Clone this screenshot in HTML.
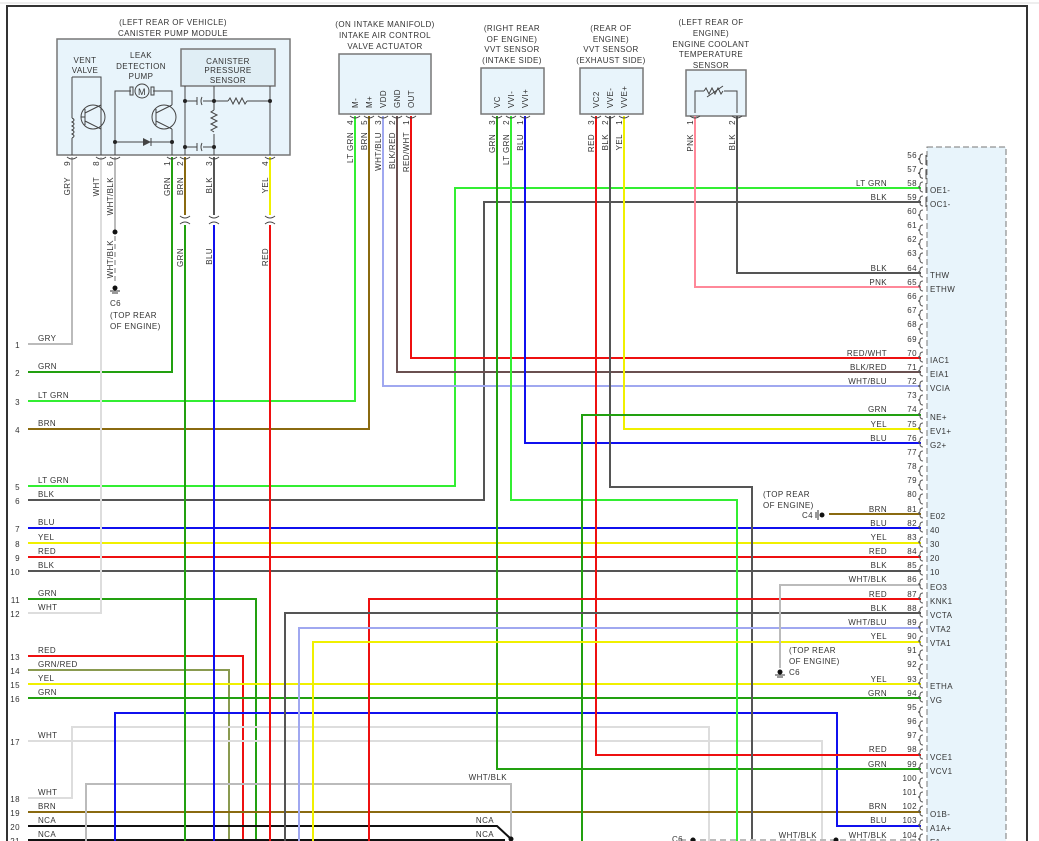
<!DOCTYPE html>
<html><head><meta charset="utf-8"><style>
html,body{margin:0;padding:0;background:#fff;}
svg{display:block;font-family:"Liberation Sans",sans-serif;}
text{font-size:8px;fill:#333;letter-spacing:0.4px;}
.w{fill:none;stroke-width:2;}
.t{fill:none;stroke:#444;stroke-width:1;}
</style></head><body>
<svg width="1039" height="841" viewBox="0 0 1039 841" xmlns="http://www.w3.org/2000/svg">
<rect x="0" y="0" width="1039" height="841" fill="#fff"/>
<path d="M7,841 V6 H1027 V841" fill="none" stroke="#333" stroke-width="2"/>
<line x1="0" y1="3" x2="1039" y2="3" stroke="#ddd" stroke-width="1"/>

<rect x="927" y="147" width="79" height="700" fill="#e8f4fb" stroke="#777" stroke-dasharray="6,3"/>

<rect x="57" y="39" width="233" height="116" fill="#e8f4fb" stroke="#777" stroke-width="1.5"/>
<rect x="181" y="49" width="94" height="37" fill="#e0eef5" stroke="#777" stroke-width="1.5"/>
<text x="173" y="25" text-anchor="middle">(LEFT REAR OF VEHICLE)</text>
<text x="173" y="36" text-anchor="middle">CANISTER PUMP MODULE</text>
<text x="85" y="63" text-anchor="middle">VENT</text><text x="85" y="73" text-anchor="middle">VALVE</text>
<text x="141" y="58" text-anchor="middle">LEAK</text><text x="141" y="69" text-anchor="middle">DETECTION</text><text x="141" y="79" text-anchor="middle">PUMP</text>
<text x="228" y="64" text-anchor="middle">CANISTER</text><text x="228" y="73" text-anchor="middle">PRESSURE</text><text x="228" y="83" text-anchor="middle">SENSOR</text>
<path class="t" d="M72,155 V138 M72,77 H101 V155 M72,77 V118 M72,118 q4,2 0,4 q4,2 0,4 q4,2 0,4 q4,2 0,4 q4,2 0,4 V138"/>
<circle class="t" cx="93" cy="117" r="12"/><path class="t" d="M85,109 V125 M85,117 H81 M85,113 L101,105 M85,121 L101,129"/>
<path class="t" d="M115,155 V91 H131 M153,91 H172 V105 M172,129 V155 M115,142 H172"/>
<circle class="t" cx="142" cy="91" r="7"/><text x="142" y="95" text-anchor="middle" style="font-size:9px">M</text>
<rect x="130" y="87" width="3" height="8" fill="none" stroke="#444"/><rect x="151" y="87" width="3" height="8" fill="none" stroke="#444"/>
<circle class="t" cx="164" cy="117" r="12"/><path class="t" d="M156,109 V125 M156,113 L172,105 M156,121 L172,129"/>
<path d="M143,138 L151,142 L143,146 Z" fill="#444"/><path class="t" d="M151,138 V146"/>
<circle cx="115" cy="142" r="2" fill="#222"/><circle cx="172" cy="142" r="2" fill="#222"/>
<path class="t" d="M185,86 V155 M214,86 V110 M214,134 V155 M270,86 V155 M185,101 H197 M203,101 H214 M214,101 H228 M247,101 H270 M185,147 H197 M203,147 H214 M197,97 V105 M202,97 q-2,4 0,8 M197,143 V151 M202,143 q-2,4 0,8"/>
<path class="t" d="M228,101 l2,-3 l3,6 l3,-6 l3,6 l3,-6 l3,6 l2,-3"/>
<path class="t" d="M214,110 l-3,2 l6,3 l-6,3 l6,3 l-6,3 l6,3 l-6,3 l3,2"/>
<circle cx="185" cy="101" r="2" fill="#222"/><circle cx="214" cy="101" r="2" fill="#222"/><circle cx="270" cy="101" r="2" fill="#222"/><circle cx="185" cy="147" r="2" fill="#222"/><circle cx="214" cy="147" r="2" fill="#222"/>

<rect x="339" y="54" width="92" height="60" fill="#e8f4fb" stroke="#777" stroke-width="1.5"/>
<text x="385" y="27" text-anchor="middle">(ON INTAKE MANIFOLD)</text><text x="385" y="38" text-anchor="middle">INTAKE AIR CONTROL</text><text x="385" y="49" text-anchor="middle">VALVE ACTUATOR</text>
<rect x="481" y="68" width="63" height="46" fill="#e8f4fb" stroke="#777" stroke-width="1.5"/>
<text x="512" y="31" text-anchor="middle">(RIGHT REAR</text><text x="512" y="42" text-anchor="middle">OF ENGINE)</text><text x="512" y="52" text-anchor="middle">VVT SENSOR</text><text x="512" y="63" text-anchor="middle">(INTAKE SIDE)</text>
<rect x="580" y="68" width="63" height="46" fill="#e8f4fb" stroke="#777" stroke-width="1.5"/>
<text x="611" y="31" text-anchor="middle">(REAR OF</text><text x="611" y="42" text-anchor="middle">ENGINE)</text><text x="611" y="52" text-anchor="middle">VVT SENSOR</text><text x="611" y="63" text-anchor="middle">(EXHAUST SIDE)</text>
<rect x="686" y="70" width="60" height="46" fill="#e8f4fb" stroke="#777" stroke-width="1.5"/>
<text x="711" y="25" text-anchor="middle">(LEFT REAR OF</text><text x="711" y="36" text-anchor="middle">ENGINE)</text><text x="711" y="47" text-anchor="middle">ENGINE COOLANT</text><text x="711" y="57" text-anchor="middle">TEMPERATURE</text><text x="711" y="68" text-anchor="middle">SENSOR</text>
<path class="t" d="M695,113 V91 H704 M724,91 H737 V113"/>
<path class="t" d="M704,91 l2,-3 l3,6 l3,-6 l3,6 l3,-6 l3,6 l2,-3 M707,97 L723,86"/>

<g text-anchor="start">
<text transform="translate(358,108) rotate(-90)">M-</text>
<text transform="translate(372,108) rotate(-90)">M+</text>
<text transform="translate(386,108) rotate(-90)">VDD</text>
<text transform="translate(400,108) rotate(-90)">GND</text>
<text transform="translate(414,108) rotate(-90)">OUT</text>
<text transform="translate(500,108) rotate(-90)">VC</text>
<text transform="translate(514,108) rotate(-90)">VVI-</text>
<text transform="translate(528,108) rotate(-90)">VVI+</text>
<text transform="translate(599,108) rotate(-90)">VC2</text>
<text transform="translate(613,108) rotate(-90)">VVE-</text>
<text transform="translate(627,108) rotate(-90)">VVE+</text>
</g>

<g text-anchor="end">
<text transform="translate(70,161) rotate(-90)">9</text><text transform="translate(70,177) rotate(-90)">GRY</text>
<text transform="translate(99,161) rotate(-90)">8</text><text transform="translate(99,177) rotate(-90)">WHT</text>
<text transform="translate(113,161) rotate(-90)">6</text><text transform="translate(113,177) rotate(-90)">WHT/BLK</text>
<text transform="translate(113,240) rotate(-90)">WHT/BLK</text>
<text transform="translate(170,161) rotate(-90)">1</text><text transform="translate(170,177) rotate(-90)">GRN</text>
<text transform="translate(183,161) rotate(-90)">2</text><text transform="translate(183,177) rotate(-90)">BRN</text>
<text transform="translate(212,161) rotate(-90)">3</text><text transform="translate(212,177) rotate(-90)">BLK</text>
<text transform="translate(268,161) rotate(-90)">4</text><text transform="translate(268,177) rotate(-90)">YEL</text>
<text transform="translate(183,248) rotate(-90)">GRN</text>
<text transform="translate(212,248) rotate(-90)">BLU</text>
<text transform="translate(268,248) rotate(-90)">RED</text>
<text transform="translate(353,120) rotate(-90)">4</text><text transform="translate(353,132) rotate(-90)">LT GRN</text>
<text transform="translate(367,120) rotate(-90)">5</text><text transform="translate(367,132) rotate(-90)">BRN</text>
<text transform="translate(381,120) rotate(-90)">3</text><text transform="translate(381,132) rotate(-90)">WHT/BLU</text>
<text transform="translate(395,120) rotate(-90)">2</text><text transform="translate(395,132) rotate(-90)">BLK/RED</text>
<text transform="translate(409,120) rotate(-90)">1</text><text transform="translate(409,132) rotate(-90)">RED/WHT</text>
<text transform="translate(495,120) rotate(-90)">3</text><text transform="translate(495,134) rotate(-90)">GRN</text>
<text transform="translate(509,120) rotate(-90)">2</text><text transform="translate(509,134) rotate(-90)">LT GRN</text>
<text transform="translate(523,120) rotate(-90)">1</text><text transform="translate(523,134) rotate(-90)">BLU</text>
<text transform="translate(594,120) rotate(-90)">3</text><text transform="translate(594,134) rotate(-90)">RED</text>
<text transform="translate(608,120) rotate(-90)">2</text><text transform="translate(608,134) rotate(-90)">BLK</text>
<text transform="translate(622,120) rotate(-90)">1</text><text transform="translate(622,134) rotate(-90)">YEL</text>
<text transform="translate(693,120) rotate(-90)">1</text><text transform="translate(693,134) rotate(-90)">PNK</text>
<text transform="translate(735,120) rotate(-90)">2</text><text transform="translate(735,134) rotate(-90)">BLK</text>
</g>

<g class="w">
<path stroke="#bbb" d="M28,344 H72 V157"/>
<path stroke="#22a010" d="M28,372 H172 V157"/>
<path stroke="#33ee33" d="M28,401 H355 V116"/>
<path stroke="#8a6a10" d="M28,429 H369 V116"/>
<path stroke="#33ee33" d="M28,486 H455 V188 H921"/>
<path stroke="#555" d="M28,500 H484 V202 H921"/>
<path stroke="#1010ee" d="M28,528 H921"/>
<path stroke="#f0f000" d="M28,543 H921"/>
<path stroke="#ee1010" d="M28,557 H921"/>
<path stroke="#555" d="M28,571 H921"/>
<path stroke="#22a010" d="M28,599 H256 V841"/>
<path stroke="#ddd" d="M28,613 H101 V157"/>
<path stroke="#ee1010" d="M28,656 H243 V841"/>
<path stroke="#8a9a50" d="M28,670 H229 V841"/>
<path stroke="#f0f000" d="M28,684 H921"/>
<path stroke="#22a010" d="M28,698 H921"/>
<path stroke="#ddd" d="M28,741 H822 V841"/>
<path stroke="#ddd" d="M28,798 H72 V727 H709 V841"/>
<path stroke="#8a6a10" d="M28,812 H921"/>
<path stroke="#111" d="M28,826 H497 L510,838"/>
<path stroke="#111" d="M28,840 H505"/>
<path stroke="#bbb" d="M86,841 V784 H511 V838"/>
<path stroke="#1010ee" d="M115,841 V713 H837 V826 H921"/>
<path stroke="#8a6a10" d="M185,157 V215"/><path stroke="#22a010" d="M185,225 V841"/>
<path stroke="#555" d="M214,157 V215"/><path stroke="#1010ee" d="M214,225 V841"/>
<path stroke="#f0f000" d="M270,157 V215"/><path stroke="#ee1010" d="M270,225 V841"/>
<path stroke="#bbb" d="M115,157 V232"/>
<path stroke="#a0a8f0" d="M383,116 V386 H921"/>
<path stroke="#6a5050" d="M397,116 V372 H921"/>
<path stroke="#ee1010" d="M411,116 V358 H921"/>
<path stroke="#22a010" d="M497,116 V769 H921"/>
<path stroke="#33ee33" d="M511,116 V500 H737 V841"/>
<path stroke="#1010ee" d="M525,116 V443 H921"/>
<path stroke="#ee1010" d="M596,116 V755 H921"/>
<path stroke="#555" d="M610,116 V487 H752 V841"/>
<path stroke="#f0f000" d="M624,116 V429 H921"/>
<path stroke="#22a010" d="M921,415 H582 V841"/>
<path stroke="#ff8899" d="M695,116 V287 H921"/>
<path stroke="#555" d="M737,116 V273 H921"/>
<path stroke="#ee1010" d="M921,599 H369 V841"/>
<path stroke="#555" d="M921,613 H285 V841"/>
<path stroke="#a0a8f0" d="M921,628 H299 V841"/>
<path stroke="#f0f000" d="M921,642 H313 V841"/>
<path stroke="#bbb" d="M921,585 H780 V668"/>
<path stroke="#8a6a10" d="M829,514 H921"/>
<path stroke="#bbb" d="M680,840 H921" stroke-dasharray="6,4"/>
</g>
<path d="M115,236 V282" stroke="#bbb" stroke-width="2" stroke-dasharray="5,3"/>
<circle cx="115" cy="232" r="2.5" fill="#111"/>
<circle cx="115" cy="288" r="2.5" fill="#111"/><path d="M110,291 H120 M112,293 H118" stroke="#333"/>
<text x="110" y="306">C6</text><text x="110" y="318">(TOP REAR</text><text x="110" y="329">OF ENGINE)</text>
<circle cx="780" cy="672" r="2.5" fill="#111"/><path d="M775,675 H785 M777,677 H783" stroke="#333"/>
<text x="789" y="653">(TOP REAR</text><text x="789" y="664">OF ENGINE)</text><text x="789" y="675">C6</text>
<circle cx="822" cy="515" r="2.5" fill="#111"/><path d="M818,510 V520 M816,512 V518" stroke="#333"/>
<text x="763" y="497">(TOP REAR</text><text x="763" y="508">OF ENGINE)</text><text x="802" y="518">C4</text>
<circle cx="511" cy="839" r="2.5" fill="#111"/><circle cx="836" cy="840" r="2.5" fill="#111"/>
<circle cx="693" cy="840" r="2.5" fill="#111"/><text x="672" y="842">C6</text>

<path class="t" d="M180,216 q5,4 10,0 M180,224 q5,-4 10,0 M209,216 q5,4 10,0 M209,224 q5,-4 10,0 M265,216 q5,4 10,0 M265,224 q5,-4 10,0"/>
<path class="t" d="M67,157 q5,4 10,0 M96,157 q5,4 10,0 M110,157 q5,4 10,0 M167,157 q5,4 10,0 M180,157 q5,4 10,0 M209,157 q5,4 10,0 M265,157 q5,4 10,0 M350,116 q5,4 10,0 M364,116 q5,4 10,0 M378,116 q5,4 10,0 M392,116 q5,4 10,0 M406,116 q5,4 10,0 M492,116 q5,4 10,0 M506,116 q5,4 10,0 M520,116 q5,4 10,0 M591,116 q5,4 10,0 M605,116 q5,4 10,0 M619,116 q5,4 10,0 M690,116 q5,4 10,0 M732,116 q5,4 10,0"/>

<g>
<text x="20" y="348" text-anchor="end">1</text><text x="38" y="341">GRY</text>
<text x="20" y="376" text-anchor="end">2</text><text x="38" y="369">GRN</text>
<text x="20" y="405" text-anchor="end">3</text><text x="38" y="398">LT GRN</text>
<text x="20" y="433" text-anchor="end">4</text><text x="38" y="426">BRN</text>
<text x="20" y="490" text-anchor="end">5</text><text x="38" y="483">LT GRN</text>
<text x="20" y="504" text-anchor="end">6</text><text x="38" y="497">BLK</text>
<text x="20" y="532" text-anchor="end">7</text><text x="38" y="525">BLU</text>
<text x="20" y="547" text-anchor="end">8</text><text x="38" y="540">YEL</text>
<text x="20" y="561" text-anchor="end">9</text><text x="38" y="554">RED</text>
<text x="20" y="575" text-anchor="end">10</text><text x="38" y="568">BLK</text>
<text x="20" y="603" text-anchor="end">11</text><text x="38" y="596">GRN</text>
<text x="20" y="617" text-anchor="end">12</text><text x="38" y="610">WHT</text>
<text x="20" y="660" text-anchor="end">13</text><text x="38" y="653">RED</text>
<text x="20" y="674" text-anchor="end">14</text><text x="38" y="667">GRN/RED</text>
<text x="20" y="688" text-anchor="end">15</text><text x="38" y="681">YEL</text>
<text x="20" y="702" text-anchor="end">16</text><text x="38" y="695">GRN</text>
<text x="20" y="745" text-anchor="end">17</text><text x="38" y="738">WHT</text>
<text x="20" y="802" text-anchor="end">18</text><text x="38" y="795">WHT</text>
<text x="20" y="816" text-anchor="end">19</text><text x="38" y="809">BRN</text>
<text x="20" y="830" text-anchor="end">20</text><text x="38" y="823">NCA</text>
<text x="20" y="844" text-anchor="end">21</text><text x="38" y="837">NCA</text>
<text x="494" y="823" text-anchor="end">NCA</text><text x="494" y="837" text-anchor="end">NCA</text>
<text x="507" y="780" text-anchor="end">WHT/BLK</text>
<text x="817" y="838" text-anchor="end">WHT/BLK</text>
</g>

<g text-anchor="end">
<text x="917" y="158">56</text><text x="917" y="172">57</text><text x="917" y="186">58</text><text x="917" y="200">59</text><text x="917" y="214">60</text><text x="917" y="228">61</text><text x="917" y="242">62</text><text x="917" y="256">63</text><text x="917" y="271">64</text><text x="917" y="285">65</text><text x="917" y="299">66</text><text x="917" y="313">67</text><text x="917" y="327">68</text><text x="917" y="342">69</text><text x="917" y="356">70</text><text x="917" y="370">71</text><text x="917" y="384">72</text><text x="917" y="398">73</text><text x="917" y="412">74</text><text x="917" y="427">75</text><text x="917" y="441">76</text><text x="917" y="455">77</text><text x="917" y="469">78</text><text x="917" y="483">79</text><text x="917" y="497">80</text><text x="917" y="512">81</text><text x="917" y="526">82</text><text x="917" y="540">83</text><text x="917" y="554">84</text><text x="917" y="568">85</text><text x="917" y="582">86</text><text x="917" y="597">87</text><text x="917" y="611">88</text><text x="917" y="625">89</text><text x="917" y="639">90</text><text x="917" y="653">91</text><text x="917" y="667">92</text><text x="917" y="682">93</text><text x="917" y="696">94</text><text x="917" y="710">95</text><text x="917" y="724">96</text><text x="917" y="738">97</text><text x="917" y="752">98</text><text x="917" y="767">99</text><text x="917" y="781">100</text><text x="917" y="795">101</text><text x="917" y="809">102</text><text x="917" y="823">103</text><text x="917" y="838">104</text>
<text x="887" y="186">LT GRN</text><text x="887" y="200">BLK</text><text x="887" y="271">BLK</text><text x="887" y="285">PNK</text>
<text x="887" y="356">RED/WHT</text><text x="887" y="370">BLK/RED</text><text x="887" y="384">WHT/BLU</text>
<text x="887" y="412">GRN</text><text x="887" y="427">YEL</text><text x="887" y="441">BLU</text>
<text x="887" y="512">BRN</text><text x="887" y="526">BLU</text><text x="887" y="540">YEL</text><text x="887" y="554">RED</text><text x="887" y="568">BLK</text>
<text x="887" y="582">WHT/BLK</text><text x="887" y="597">RED</text><text x="887" y="611">BLK</text><text x="887" y="625">WHT/BLU</text><text x="887" y="639">YEL</text>
<text x="887" y="682">YEL</text><text x="887" y="696">GRN</text><text x="887" y="752">RED</text><text x="887" y="767">GRN</text>
<text x="887" y="809">BRN</text><text x="887" y="823">BLU</text><text x="887" y="838">WHT/BLK</text>
</g>
<g>
<text x="930" y="193">OE1-</text><text x="930" y="207">OC1-</text><text x="930" y="278">THW</text><text x="930" y="292">ETHW</text>
<text x="930" y="363">IAC1</text><text x="930" y="377">EIA1</text><text x="930" y="391">VCIA</text>
<text x="930" y="420">NE+</text><text x="930" y="434">EV1+</text><text x="930" y="448">G2+</text>
<text x="930" y="519">E02</text><text x="930" y="533">40</text><text x="930" y="547">30</text><text x="930" y="561">20</text><text x="930" y="575">10</text>
<text x="930" y="590">EO3</text><text x="930" y="604">KNK1</text><text x="930" y="618">VCTA</text><text x="930" y="632">VTA2</text><text x="930" y="646">VTA1</text>
<text x="930" y="689">ETHA</text><text x="930" y="703">VG</text><text x="930" y="760">VCE1</text><text x="930" y="774">VCV1</text>
<text x="930" y="817">O1B-</text><text x="930" y="831">A1A+</text><text x="930" y="845">E1</text>
</g>
<g class="t" stroke="#555">
<path d="M923,154 q-3,0 -3,3 q0,2 -2,2 q2,0 2,2 q0,3 3,3 M926,155 V165"/>
<path transform="translate(0,14.2)" d="M923,154 q-3,0 -3,3 q0,2 -2,2 q2,0 2,2 q0,3 3,3 M926,155 V165"/>
</g>
<g stroke="#555" fill="none" stroke-width="1">
<path d="M923,182 q-3,0 -3,3 q0,2 -2,2 q2,0 2,2 q0,3 3,3 M926,183 V193 M923,196 q-3,0 -3,3 q0,2 -2,2 q2,0 2,2 q0,3 3,3 M926,197 V207 M923,210 q-3,0 -3,3 q0,2 -2,2 q2,0 2,2 q0,3 3,3 M923,225 q-3,0 -3,3 q0,2 -2,2 q2,0 2,2 q0,3 3,3 M923,239 q-3,0 -3,3 q0,2 -2,2 q2,0 2,2 q0,3 3,3 M923,253 q-3,0 -3,3 q0,2 -2,2 q2,0 2,2 q0,3 3,3 M923,267 q-3,0 -3,3 q0,2 -2,2 q2,0 2,2 q0,3 3,3 M923,281 q-3,0 -3,3 q0,2 -2,2 q2,0 2,2 q0,3 3,3 M923,296 q-3,0 -3,3 q0,2 -2,2 q2,0 2,2 q0,3 3,3 M923,310 q-3,0 -3,3 q0,2 -2,2 q2,0 2,2 q0,3 3,3 M923,324 q-3,0 -3,3 q0,2 -2,2 q2,0 2,2 q0,3 3,3 M923,338 q-3,0 -3,3 q0,2 -2,2 q2,0 2,2 q0,3 3,3 M923,352 q-3,0 -3,3 q0,2 -2,2 q2,0 2,2 q0,3 3,3 M923,366 q-3,0 -3,3 q0,2 -2,2 q2,0 2,2 q0,3 3,3 M923,381 q-3,0 -3,3 q0,2 -2,2 q2,0 2,2 q0,3 3,3 M923,395 q-3,0 -3,3 q0,2 -2,2 q2,0 2,2 q0,3 3,3 M923,409 q-3,0 -3,3 q0,2 -2,2 q2,0 2,2 q0,3 3,3 M923,423 q-3,0 -3,3 q0,2 -2,2 q2,0 2,2 q0,3 3,3 M923,437 q-3,0 -3,3 q0,2 -2,2 q2,0 2,2 q0,3 3,3 M923,451 q-3,0 -3,3 q0,2 -2,2 q2,0 2,2 q0,3 3,3 M923,466 q-3,0 -3,3 q0,2 -2,2 q2,0 2,2 q0,3 3,3 M923,480 q-3,0 -3,3 q0,2 -2,2 q2,0 2,2 q0,3 3,3 M923,494 q-3,0 -3,3 q0,2 -2,2 q2,0 2,2 q0,3 3,3 M923,508 q-3,0 -3,3 q0,2 -2,2 q2,0 2,2 q0,3 3,3 M923,522 q-3,0 -3,3 q0,2 -2,2 q2,0 2,2 q0,3 3,3 M923,537 q-3,0 -3,3 q0,2 -2,2 q2,0 2,2 q0,3 3,3 M923,551 q-3,0 -3,3 q0,2 -2,2 q2,0 2,2 q0,3 3,3 M923,565 q-3,0 -3,3 q0,2 -2,2 q2,0 2,2 q0,3 3,3 M923,579 q-3,0 -3,3 q0,2 -2,2 q2,0 2,2 q0,3 3,3 M923,593 q-3,0 -3,3 q0,2 -2,2 q2,0 2,2 q0,3 3,3 M923,607 q-3,0 -3,3 q0,2 -2,2 q2,0 2,2 q0,3 3,3 M923,622 q-3,0 -3,3 q0,2 -2,2 q2,0 2,2 q0,3 3,3 M923,636 q-3,0 -3,3 q0,2 -2,2 q2,0 2,2 q0,3 3,3 M923,650 q-3,0 -3,3 q0,2 -2,2 q2,0 2,2 q0,3 3,3 M923,664 q-3,0 -3,3 q0,2 -2,2 q2,0 2,2 q0,3 3,3 M923,678 q-3,0 -3,3 q0,2 -2,2 q2,0 2,2 q0,3 3,3 M923,692 q-3,0 -3,3 q0,2 -2,2 q2,0 2,2 q0,3 3,3 M923,707 q-3,0 -3,3 q0,2 -2,2 q2,0 2,2 q0,3 3,3 M923,721 q-3,0 -3,3 q0,2 -2,2 q2,0 2,2 q0,3 3,3 M923,735 q-3,0 -3,3 q0,2 -2,2 q2,0 2,2 q0,3 3,3 M923,749 q-3,0 -3,3 q0,2 -2,2 q2,0 2,2 q0,3 3,3 M923,763 q-3,0 -3,3 q0,2 -2,2 q2,0 2,2 q0,3 3,3 M923,778 q-3,0 -3,3 q0,2 -2,2 q2,0 2,2 q0,3 3,3 M923,792 q-3,0 -3,3 q0,2 -2,2 q2,0 2,2 q0,3 3,3 M923,806 q-3,0 -3,3 q0,2 -2,2 q2,0 2,2 q0,3 3,3 M923,820 q-3,0 -3,3 q0,2 -2,2 q2,0 2,2 q0,3 3,3 M923,834 q-3,0 -3,3 q0,2 -2,2 q2,0 2,2 q0,3 3,3"/>
</g>
</svg>
</body></html>
